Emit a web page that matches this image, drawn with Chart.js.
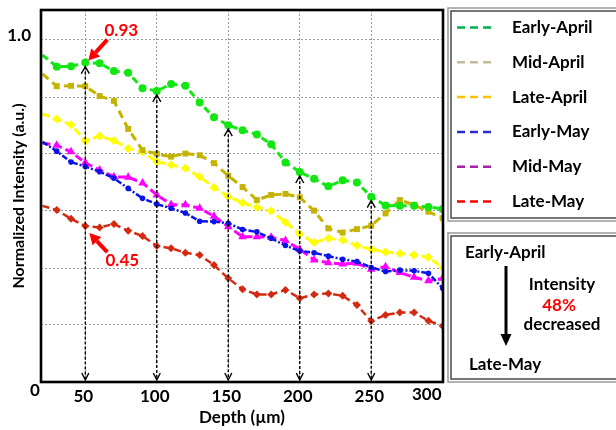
<!DOCTYPE html>
<html>
<head>
<meta charset="utf-8">
<script src="https://cdn.jsdelivr.net/npm/chart.js@4.4.1/dist/chart.umd.min.js"></script>
<style>
  html, body { margin: 0; padding: 0; background: #fff; }
  #wrap { width: 616px; height: 430px; }
</style>
</head>
<body>
<div id="wrap"><canvas id="depthChart" width="616" height="430"></canvas></div>
<script>
// depth in µm, one sample every 10 µm
const depth = [20, 30, 40, 50, 60, 70, 80, 90, 100, 110, 120, 130, 140, 150, 160, 170, 180, 190, 200, 210, 220, 230, 240, 250, 260, 270, 280, 290, 300];

const earlyApril = [0.956, 0.922, 0.923, 0.934, 0.932, 0.909, 0.904, 0.859, 0.851, 0.871, 0.866, 0.817, 0.774, 0.751, 0.736, 0.724, 0.695, 0.642, 0.614, 0.594, 0.572, 0.590, 0.583, 0.542, 0.516, 0.515, 0.515, 0.512, 0.506];
const midApril   = [0.901, 0.865, 0.866, 0.865, 0.836, 0.822, 0.740, 0.678, 0.667, 0.659, 0.668, 0.663, 0.640, 0.603, 0.570, 0.532, 0.547, 0.550, 0.540, 0.501, 0.449, 0.437, 0.447, 0.457, 0.493, 0.532, 0.518, 0.498, 0.479];
const lateApril  = [0.784, 0.769, 0.752, 0.705, 0.719, 0.706, 0.683, 0.673, 0.644, 0.635, 0.625, 0.600, 0.569, 0.542, 0.524, 0.511, 0.500, 0.467, 0.433, 0.408, 0.420, 0.415, 0.399, 0.388, 0.380, 0.376, 0.371, 0.365, 0.335];
const earlyMay   = [0.702, 0.675, 0.643, 0.630, 0.615, 0.596, 0.566, 0.537, 0.520, 0.508, 0.494, 0.470, 0.469, 0.464, 0.446, 0.439, 0.420, 0.399, 0.383, 0.378, 0.368, 0.359, 0.352, 0.335, 0.323, 0.327, 0.325, 0.318, 0.274];
const midMay     = [0.699, 0.692, 0.673, 0.641, 0.620, 0.600, 0.599, 0.582, 0.547, 0.519, 0.518, 0.508, 0.485, 0.454, 0.425, 0.425, 0.423, 0.414, 0.388, 0.357, 0.349, 0.345, 0.347, 0.330, 0.337, 0.320, 0.306, 0.296, 0.303];
const lateMay    = [0.515, 0.503, 0.477, 0.456, 0.452, 0.462, 0.442, 0.427, 0.398, 0.391, 0.378, 0.371, 0.342, 0.303, 0.271, 0.256, 0.256, 0.269, 0.245, 0.256, 0.259, 0.252, 0.225, 0.178, 0.196, 0.203, 0.203, 0.179, 0.164];

const seriesNames = ['Early-April', 'Mid-April', 'Late-April', 'Early-May', 'Mid-May', 'Late-May'];
const xTicks = [50, 100, 150, 200, 250, 300];
const yTicks = [0, 0.1667, 0.3333, 0.5, 0.6667, 0.8333, 1.0];
const arrowDepths = [50, 100, 150, 200, 250];
const peakLabel = '0.93';
const lowLabel = '0.45';

const FONT = 'Lato, "Open Sans", sans-serif';
const lineColors = ['#14e614', '#c4b300', '#ffff00', '#0a14e6', '#ff00ff', '#d42a12'];
const legendColors = ['#00b050', '#c4bc96', '#ffc000', '#2b2bd0', '#a820a8', '#ff0000'];

function series(vals) {
    return vals.map((v, i) => ({ x: depth[i], y: v }));
}

// first sample sits on the left frame, the original shows no marker there
const hideFirst = r => c => c.dataIndex === 0 ? 0 : r;

function buildDatasets() {
    const styles = [
        { data: earlyApril, dash: [7, 4], width: 3, point: 'circle', r: 4 },
        { data: midApril, dash: [8, 5], width: 3, point: 'rect', r: 4.2 },
        { data: lateApril, dash: [8, 4], width: 3, point: 'rectRot', r: 4.5 },
        { data: earlyMay, dash: [6, 2, 2, 2], width: 2.5, point: 'circle', r: 2.8 },
        { data: midMay, dash: [8, 4], width: 3, point: 'triangle', r: 5 },
        { data: lateMay, dash: [7, 4], width: 2.5, point: 'rectRot', r: 4 }
    ];
    return styles.map((s, i) => ({
        label: seriesNames[i],
        data: series(s.data),
        borderColor: lineColors[i],
        backgroundColor: lineColors[i],
        borderWidth: s.width,
        borderDash: s.dash,
        pointStyle: s.point,
        pointRadius: hideFirst(s.r),
        pointBorderWidth: 0,
        tension: 0,
        fill: false,
        clip: 0
    }));
}

function arrowHead(ctx, x, y, dir, w, h) {
    ctx.beginPath();
    ctx.moveTo(x - w, y + dir * h);
    ctx.lineTo(x, y);
    ctx.lineTo(x + w, y + dir * h);
    ctx.stroke();
}

function redArrow(ctx, x1, y1, x2, y2) {
    const ang = Math.atan2(y2 - y1, x2 - x1);
    const hl = 11, hw = 6;
    const bx = x2 - Math.cos(ang) * hl, by = y2 - Math.sin(ang) * hl;
    ctx.strokeStyle = '#ff0000';
    ctx.fillStyle = '#ff0000';
    ctx.lineWidth = 4;
    ctx.setLineDash([]);
    ctx.beginPath();
    ctx.moveTo(x1, y1);
    ctx.lineTo(bx, by);
    ctx.stroke();
    ctx.beginPath();
    ctx.moveTo(x2, y2);
    ctx.lineTo(bx + Math.sin(ang) * hw, by - Math.cos(ang) * hw);
    ctx.lineTo(bx - Math.sin(ang) * hw, by + Math.cos(ang) * hw);
    ctx.closePath();
    ctx.fill();
}

function doubleBox(ctx, x, y, w, h) {
    ctx.setLineDash([]);
    ctx.strokeStyle = '#9a9a9a';
    ctx.lineWidth = 1.5;
    ctx.strokeRect(x, y, w, h);
    ctx.strokeStyle = '#4a4a4a';
    ctx.lineWidth = 1.5;
    ctx.strokeRect(x + 3, y + 3, w - 6, h - 6);
}

const overlay = {
    id: 'overlay',
    afterDraw(chart) {
        const ctx = chart.ctx;
        const xs = chart.scales.x, ys = chart.scales.y;
        const area = chart.chartArea;
        ctx.save();

        // depth markers: dashed double arrows up to the Early-April curve
        ctx.strokeStyle = '#000';
        arrowDepths.forEach(d => {
            const x = xs.getPixelForValue(d);
            const yTop = ys.getPixelForValue(earlyApril[depth.indexOf(d)]) + 4;
            const yBot = area.bottom - 2;
            ctx.lineWidth = 1.4;
            ctx.setLineDash([3, 2]);
            ctx.beginPath();
            ctx.moveTo(x, yTop);
            ctx.lineTo(x, yBot);
            ctx.stroke();
            ctx.setLineDash([]);
            ctx.lineWidth = 1.4;
            arrowHead(ctx, x, yTop, 1, 4, 7);
            arrowHead(ctx, x, yBot, -1, 3.5, 7);
        });

        // red call-outs at 50 µm
        const i50 = depth.indexOf(50);
        const px = xs.getPixelForValue(50);
        const pTop = ys.getPixelForValue(earlyApril[i50]);
        const pLow = ys.getPixelForValue(lateMay[i50]);
        redArrow(ctx, px + 22, pTop - 23, px + 3, pTop - 2);
        redArrow(ctx, px + 22, pLow + 26, px + 4, pLow + 7);
        ctx.fillStyle = '#ff0000';
        ctx.font = 'bold 17px ' + FONT;
        ctx.textAlign = 'center';
        ctx.textBaseline = 'middle';
        ctx.fillText(peakLabel, px + 36, pTop - 32);
        ctx.fillText(lowLabel, px + 37, pLow + 34);

        // plot frame
        ctx.setLineDash([]);
        ctx.strokeStyle = '#000';
        ctx.lineWidth = 2.6;
        ctx.strokeRect(area.left, area.top, area.right - area.left, area.bottom - area.top);

        // corner zero and the last depth label pulled inside the frame
        ctx.fillStyle = '#000';
        ctx.font = 'bold 17px ' + FONT;
        ctx.textAlign = 'center';
        ctx.fillText('0', area.left - 6, area.bottom + 9);
        ctx.fillText(String(xTicks[xTicks.length - 1]), xs.getPixelForValue(300) - 16, area.bottom + 13);

        // legend box
        doubleBox(ctx, 448, 8, 180, 213);
        chart.data.datasets.forEach((ds, i) => {
            const y = 27.5 + i * 34.8;
            ctx.strokeStyle = legendColors[i];
            ctx.lineWidth = 2.5;
            ctx.setLineDash([8, 5]);
            ctx.beginPath();
            ctx.moveTo(457, y);
            ctx.lineTo(491, y);
            ctx.stroke();
            ctx.setLineDash([]);
            ctx.fillStyle = '#000';
            ctx.textAlign = 'left';
            ctx.fillText(ds.label, 512, y);
        });

        // intensity change box
        doubleBox(ctx, 448, 233, 180, 149);
        ctx.fillStyle = '#000';
        ctx.textAlign = 'left';
        ctx.fillText(seriesNames[0], 465, 253);
        ctx.fillText(seriesNames[5], 469, 365);
        ctx.textAlign = 'center';
        ctx.fillText('Intensity', 562, 285);
        ctx.fillText('decreased', 562, 325);
        ctx.fillStyle = '#ff0000';
        ctx.fillText('48%', 559, 306);
        ctx.strokeStyle = '#000';
        ctx.fillStyle = '#000';
        ctx.lineWidth = 3;
        ctx.beginPath();
        ctx.moveTo(506, 266);
        ctx.lineTo(506, 336);
        ctx.stroke();
        ctx.beginPath();
        ctx.moveTo(506, 346);
        ctx.lineTo(500.5, 334);
        ctx.lineTo(511.5, 334);
        ctx.closePath();
        ctx.fill();

        ctx.restore();
    }
};

function noPad(s) {
    s.paddingTop = 0;
    s.paddingBottom = 0;
    s.paddingLeft = 0;
    s.paddingRight = 0;
}

function draw() {
    const tickFont = { family: FONT, size: 17, weight: 'bold' };
    const yTitleFont = { family: FONT, size: 16, weight: 'bold' };
    new Chart(document.getElementById('depthChart'), {
        type: 'line',
        data: { datasets: buildDatasets() },
        options: {
            responsive: false,
            animation: false,
            layout: { padding: { top: 10, right: 173, left: 0, bottom: 0 } },
            plugins: { legend: { display: false }, tooltip: { enabled: false } },
            scales: {
                x: {
                    type: 'linear',
                    min: 19,
                    max: 300.2,
                    afterBuildTicks: s => { s.ticks = xTicks.map(v => ({ value: v })); },
                    afterFit: s => { s.height = 48; noPad(s); },
                    grid: { color: '#9a9a9a', lineWidth: 1, drawTicks: false },
                    border: { display: false, dash: [2, 2] },
                    ticks: {
                        color: '#000', font: tickFont, padding: 4, maxRotation: 0, autoSkip: false,
                        labelOffset: -2,
                        callback: v => v === 300 ? '' : String(v)
                    },
                    title: { display: true, text: 'Depth (µm)', color: '#000', font: tickFont, padding: { top: 0, bottom: 2 } }
                },
                y: {
                    min: 0,
                    max: 1.0877,
                    afterBuildTicks: s => { s.ticks = yTicks.map(v => ({ value: v })); },
                    afterFit: s => { s.width = 41; noPad(s); },
                    grid: { color: '#9a9a9a', lineWidth: 1, drawTicks: false },
                    border: { display: false, dash: [2, 2] },
                    ticks: {
                        color: '#000', font: tickFont, padding: 10, labelOffset: -4,
                        callback: v => v === 1 ? '1.0' : ''
                    },
                    title: { display: true, text: 'Normalized Intensity (a.u.)', color: '#000', font: yTitleFont, padding: { top: 9, bottom: 0 } }
                }
            }
        },
        plugins: [overlay]
    });
}

if (document.fonts && document.fonts.load) {
    document.fonts.load('bold 17px Lato').then(draw, draw);
} else {
    draw();
}
</script>
</body>
</html>
